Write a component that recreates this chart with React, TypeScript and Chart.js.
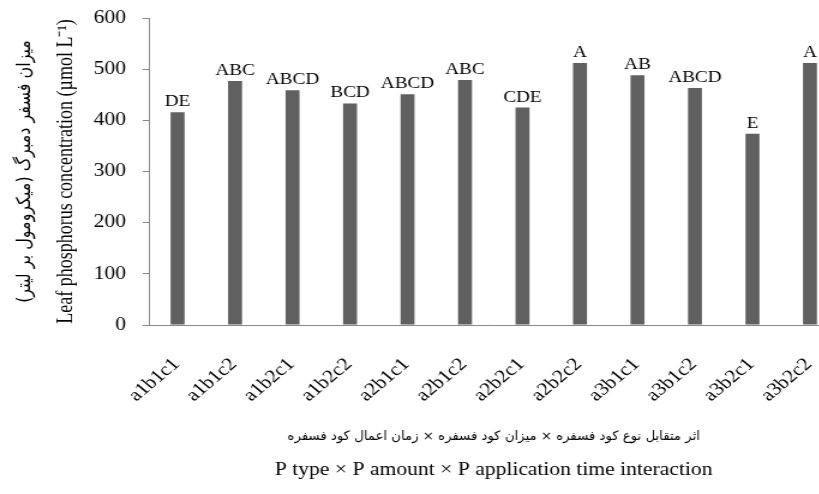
import React, { useEffect, useRef } from 'react';
import { Chart, registerables } from 'chart.js';

Chart.register(...registerables);

// ---- data ----
const categories = ['a1b1c1', 'a1b1c2', 'a1b2c1', 'a1b2c2', 'a2b1c1', 'a2b1c2', 'a2b2c1', 'a2b2c2', 'a3b1c1', 'a3b1c2', 'a3b2c1', 'a3b2c2'];
const concentration = [416, 477, 459, 433, 451, 479, 425, 512, 488, 463, 374, 512];
const letters = ['DE', 'ABC', 'ABCD', 'BCD', 'ABCD', 'ABC', 'CDE', 'A', 'AB', 'ABCD', 'E', 'A'];
const yTickValues = [0, 100, 200, 300, 400, 500, 600];

const yTitleEn = 'Leaf phosphorus concentration (µmol L⁻¹)';
const yTitleFa = 'میزان فسفر دمبرگ (میکرومول بر لیتر)';
const xTitleEn = 'P type × P amount × P application time interaction';
const xTitleFa = 'اثر متقابل نوع کود فسفره × میزان کود فسفره × زمان اعمال کود فسفره';

// ---- styling ----
const SERIF = '"Liberation Serif", "Times New Roman", serif';
const STRETCH = 1.2; // the reference is horizontally stretched
const W = 720;
const H = 494;

const persianTitles = {
  id: 'persianTitles',
  afterDraw(chart: any) {
    const { ctx, chartArea } = chart;
    ctx.save();
    ctx.fillStyle = '#000';
    ctx.textAlign = 'center';
    ctx.textBaseline = 'middle';
    ctx.direction = 'rtl';
    // x-axis Persian title (narrow Naskh-like look)
    ctx.save();
    ctx.font = '13px "DejaVu Sans", sans-serif';
    ctx.translate((chartArea.left + chartArea.right) / 2, chart.height - 57);
    ctx.scale(0.85, 1);
    ctx.fillText(xTitleFa, 0, 0);
    ctx.restore();
    // y-axis Persian title
    ctx.font = '16px "DejaVu Sans", sans-serif';
    ctx.translate(21, (chartArea.top + chartArea.bottom) / 2);
    ctx.rotate(-Math.PI / 2);
    ctx.fillText(yTitleFa, 0, 0);
    ctx.restore();
  },
};

const letterLabels = {
  id: 'letterLabels',
  afterDatasetsDraw(chart: any) {
    const meta = chart.getDatasetMeta(0);
    const ctx = chart.ctx;
    ctx.save();
    ctx.font = '16px ' + SERIF;
    ctx.fillStyle = '#000';
    ctx.textAlign = 'center';
    ctx.textBaseline = 'alphabetic';
    meta.data.forEach((el: any, i: number) => {
      ctx.fillText(letters[i], el.x, el.y - 6);
    });
    ctx.restore();
  },
};

export default function App() {
  const ref = useRef<HTMLCanvasElement>(null);

  useEffect(() => {
    const canvas = ref.current;
    if (!canvas) return;
    const chart = new Chart(canvas, {
      type: 'bar',
      data: {
        labels: categories,
        datasets: [
          {
            data: concentration,
            backgroundColor: '#606060',
            borderWidth: 0,
            categoryPercentage: 1,
            barPercentage: 0.243,
          },
        ],
      },
      options: {
        responsive: false,
        animation: false,
        devicePixelRatio: 1,
        layout: { padding: { top: 18, right: 19, bottom: 0, left: 0 } },
        plugins: {
          legend: { display: false },
          tooltip: { enabled: false },
        },
        scales: {
          x: {
            grid: { display: false, drawTicks: false },
            border: { display: true, color: '#888', width: 1 },
            ticks: {
              autoSkip: false,
              minRotation: 45,
              maxRotation: 45,
              padding: 29,
              labelOffset: -1,
              color: '#000',
              font: { family: SERIF, size: 18 },
            },
            title: {
              display: true,
              text: xTitleEn,
              color: '#000',
              font: { family: SERIF, size: 18 },
              padding: { top: 0, bottom: 13 },
            },
            afterFit: (s: any) => {
              s.height = 169;
            },
          },
          y: {
            min: yTickValues[0],
            max: yTickValues[yTickValues.length - 1],
            grid: { display: true, drawOnChartArea: false, drawTicks: true, tickLength: 5, color: '#888' },
            border: { display: true, color: '#888', width: 1 },
            ticks: {
              stepSize: yTickValues[1] - yTickValues[0],
              padding: 14,
              color: '#000',
              font: { family: SERIF, size: 18 },
            },
            title: {
              display: true,
              text: yTitleEn,
              color: '#000',
              font: { family: SERIF, size: 18 },
              padding: { top: 44, bottom: 0 },
            },
            afterFit: (s: any) => {
              s.width = 124;
              s.paddingTop = 0;
              s.paddingBottom = 0;
            },
          },
        },
      },
      plugins: [letterLabels, persianTitles],
    });
    return () => chart.destroy();
  }, []);

  return (
    <div
      style={{
        position: 'absolute',
        left: 0,
        top: 0,
        width: 819,
        height: 494,
        overflow: 'hidden',
        background: '#fff',
      }}
    >
      <canvas
        ref={ref}
        width={W}
        height={H}
        style={{ display: 'block', width: W * STRETCH, height: H }}
      />
    </div>
  );
}
